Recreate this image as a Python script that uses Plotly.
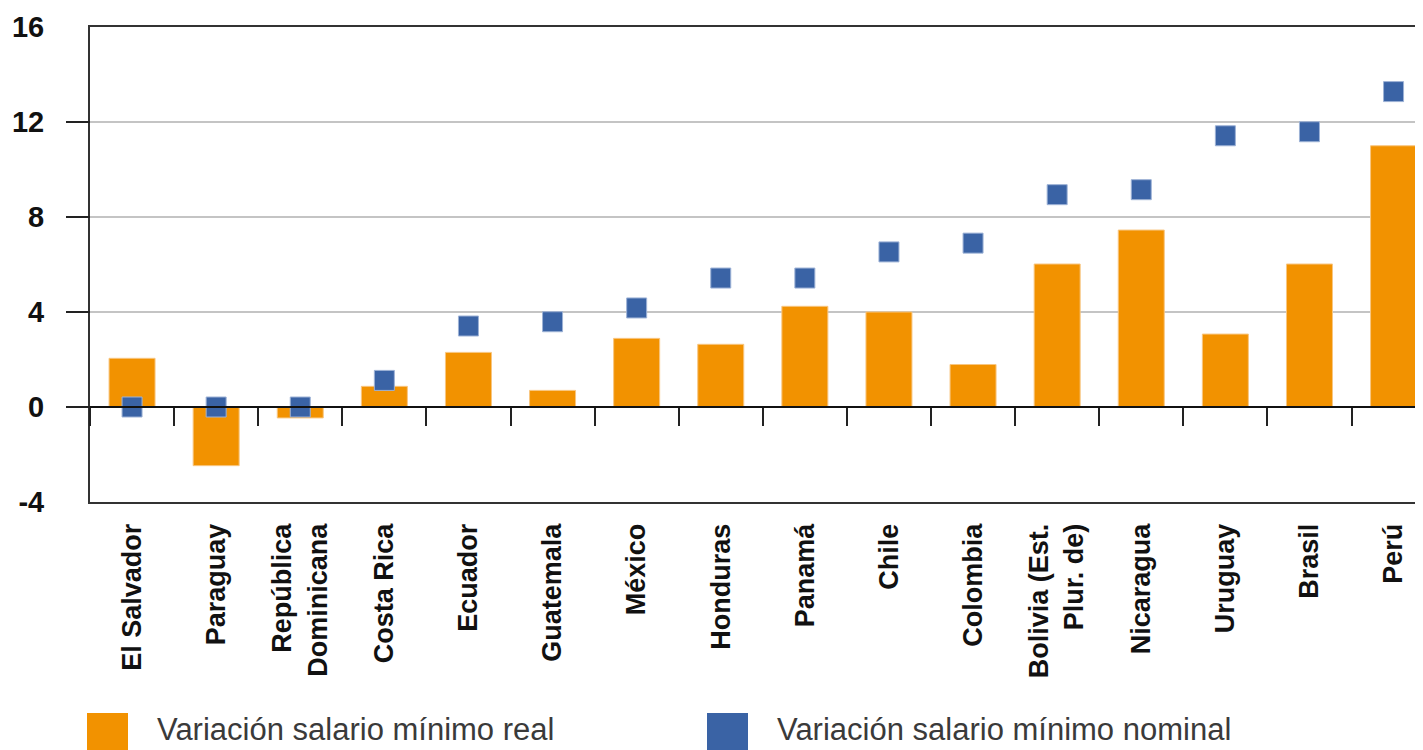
import plotly.graph_objects as go

categories = ["El Salvador", "Paraguay", "República<br>Dominicana", "Costa Rica", "Ecuador",
              "Guatemala", "México", "Honduras", "Panamá", "Chile", "Colombia",
              "Bolivia (Est.<br>Plur. de)", "Nicaragua", "Uruguay", "Brasil", "Perú"]
real_change = [2.05, -2.47, -0.46, 0.87, 2.3, 0.7, 2.89, 2.64, 4.24, 4.0, 1.79, 6.02, 7.45, 3.07, 6.02, 11.0]
nominal_change = [0, 0, 0, 1.12, 3.41, 3.59, 4.17, 5.43, 5.43, 6.53, 6.9, 8.94, 9.15, 11.42, 11.59, 13.28]
y_ticks = [-4, 0, 4, 8, 12, 16]
legend_labels = ["Variación salario mínimo real", "Variación salario mínimo nominal"]

ORANGE = "#F29200"
BLUE = "#3A63A5"
W, H = 1423, 750
PAGE_OFF = 8            # default body margin of the html page
ML_PAGE, MT_PAGE = 90, 27
PW, PH = 1333, 475
ML, MT = ML_PAGE - PAGE_OFF, MT_PAGE - PAGE_OFF
YR = [-4, 16]
XR = [-0.5, 15.35]

fig = go.Figure()
fig.add_trace(go.Bar(x=categories, y=real_change, name=legend_labels[0],
                     marker=dict(color=ORANGE, line=dict(color="#F8C681", width=1)),
                     xaxis="x", yaxis="y", showlegend=False))
fig.add_trace(go.Scatter(x=categories, y=nominal_change, name=legend_labels[1], mode="markers",
                         marker=dict(symbol="square", size=20, color=BLUE,
                                     line=dict(color="#9DB2D6", width=1)),
                         xaxis="x2", yaxis="y2", showlegend=False))

fig.update_layout(
    width=W, height=H,
    margin=dict(l=ML, r=W - ML - PW, t=MT, b=H - MT - PH, pad=0),
    paper_bgcolor="white", plot_bgcolor="white",
    bargap=0.453,
    xaxis=dict(type="category", categoryorder="array", categoryarray=categories,
               range=XR, showline=True, mirror=True, linecolor="#333", linewidth=2,
               ticks="", tickangle=-90, automargin=False, showgrid=False,
               ticklabelstandoff=9,
               tickfont=dict(family="Liberation Sans", size=27, color="#111", weight="bold")),
    xaxis2=dict(type="category", categoryorder="array", categoryarray=categories,
                range=XR, overlaying="x", anchor="free", position=0.2,
                showline=True, linecolor="#111", linewidth=2,
                ticks="outside", tickson="boundaries", ticklen=18, tickwidth=2, tickcolor="#222",
                showticklabels=False, showgrid=False, automargin=False),
    yaxis=dict(range=YR, tickvals=y_ticks, ticktext=[str(v) for v in y_ticks],
               showline=True, linecolor="#333", linewidth=2, mirror=False,
               showgrid=True, gridcolor="#C4C4C4", gridwidth=2, zeroline=False,
               ticks="", ticklabelstandoff=38, automargin=False,
               tickfont=dict(family="Liberation Sans", size=29, color="#111", weight="bold")),
    yaxis2=dict(range=YR, overlaying="y", side="left", anchor="free", position=0,
                tickvals=y_ticks[1:5], ticks="outside", ticklen=24, tickwidth=2, tickcolor="#222",
                showticklabels=False, showgrid=False, zeroline=False, showline=False,
                automargin=False),
)

def px_x(p):
    return (p - ML_PAGE) / PW

def px_y(p):
    return (MT_PAGE + PH - p) / PH

# custom legend
legend_items = [(legend_labels[0], ORANGE, 87, 155), (legend_labels[1], BLUE, 707, 775)]
for label, color, sx, tx in legend_items:
    fig.add_shape(type="rect", xref="paper", yref="paper",
                  x0=px_x(sx), x1=px_x(sx + 41), y0=px_y(756), y1=px_y(713),
                  fillcolor=color, line=dict(width=0))
    fig.add_annotation(text=label, xref="paper", yref="paper", x=px_x(tx), y=px_y(729.5),
                       xanchor="left", yanchor="middle", showarrow=False,
                       font=dict(family="Liberation Sans", size=31, color="#3A3A3A"))

fig.write_html("out.html")
